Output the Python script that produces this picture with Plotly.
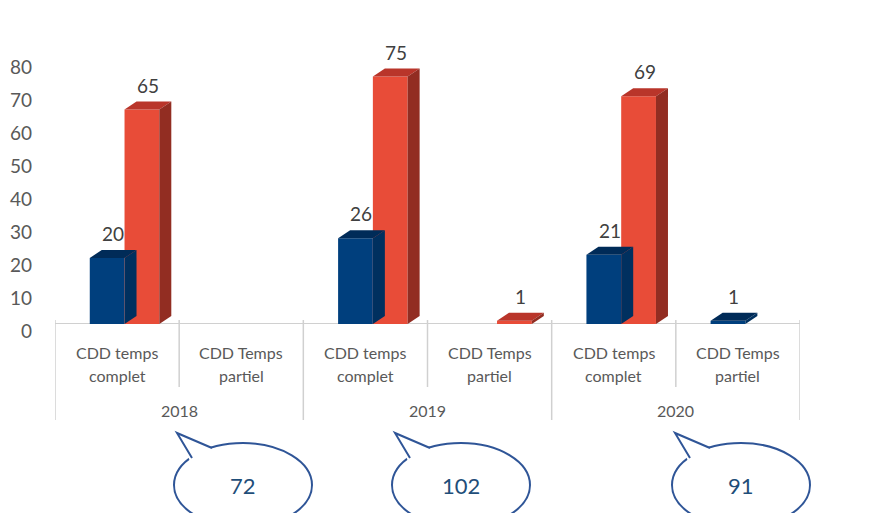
import plotly.graph_objects as go

# ---- data ----
years = ["2018", "2019", "2020"]
cat_line1 = ["CDD temps", "CDD Temps"]
cat_line2 = ["complet", "partiel"]
hommes = [20, None, 26, None, 21, 1]
femmes = [65, None, 75, 1, 69, None]
totals = [72, 102, 91]
y_ticks = [0, 10, 20, 30, 40, 50, 60, 70, 80]

# ---- geometry helpers (reference pixel coordinates) ----
W, H = 891, 521
BODY = 8                  # default page margin of the html body
PL, PR = 55, 800          # plot area left/right px
PB = 324                  # floor (y=0) px
YMAX = 80
PXU = 3.3                 # px per unit
PT = PB - YMAX * PXU
n = len(hommes)

def pxx(px):
    return (px - PL) / (PR - PL)

def pxy(py):
    return (PB - py) / (PB - PT)

x_per_px = n / (PR - PL)
y_per_px = 1 / PXU
DX = 12 * x_per_px
DY = 8 * y_per_px
BW = 0.28

fig = go.Figure()

series = [
    ("Hommes", hommes, -0.22, "#003F7D", "#002B58", "#00305F"),
    ("Femmes", femmes, 0.06, "#E84C38", "#B9352A", "#922D22"),
]

xs = list(range(n))
for name, vals, off, c_front, c_top, c_side in series:
    fig.add_trace(go.Bar(
        x=xs, y=vals, width=BW, offset=off, name=name,
        marker=dict(color=c_front, line=dict(width=0)),
        showlegend=False, hoverinfo="y",
    ))
    for i, v in enumerate(vals):
        if v is None:
            continue
        x0 = i + off
        x1 = x0 + BW
        fig.add_trace(go.Scatter(
            x=[x0, x0 + DX, x1 + DX, x1, x0], y=[v, v + DY, v + DY, v, v],
            fill="toself", fillcolor=c_top, mode="lines", line=dict(width=0),
            showlegend=False, hoverinfo="skip",
        ))
        fig.add_trace(go.Scatter(
            x=[x1, x1, x1 + DX, x1 + DX, x1], y=[0, v, v + DY, DY, 0],
            fill="toself", fillcolor=c_side, mode="lines", line=dict(width=0),
            showlegend=False, hoverinfo="skip",
        ))
        fig.add_annotation(
            x=x0 + BW / 2 + DX / 2, y=v + DY, xref="x", yref="y",
            text=str(v), showarrow=False, xanchor="center", yanchor="bottom", yshift=3,
            font=dict(size=19, color="#404040", family="Lato"),
        )

# y tick labels (slightly below the 3D floor, as in the original)
for t in y_ticks:
    fig.add_annotation(x=pxx(34), y=t, xref="paper", yref="y", text=str(t),
                       showarrow=False, xanchor="right", yanchor="middle", yshift=-6,
                       font=dict(size=19, color="#595959", family="Lato"))

shapes = []
grey = "#D0D0D0"
shapes.append(dict(type="line", xref="x", yref="y", x0=-0.5, x1=n - 0.5,
                   y0=0, y1=0, line=dict(color=grey, width=2), layer="below"))
for k in range(n + 1):
    xb = k - 0.5
    outer = (k % 2 == 0)
    shapes.append(dict(type="line", xref="x", yref="paper", x0=xb, x1=xb,
                       y0=pxy(320), y1=pxy(420 if outer else 387),
                       line=dict(color=grey, width=1.5), layer="below"))

for i in range(n):
    fig.add_annotation(x=i, y=pxy(352), xref="x", yref="paper", text=cat_line1[i % 2],
                       showarrow=False, xanchor="center", yanchor="middle",
                       font=dict(size=16, color="#595959", family="Lato"))
    fig.add_annotation(x=i, y=pxy(375), xref="x", yref="paper", text=cat_line2[i % 2],
                       showarrow=False, xanchor="center", yanchor="middle",
                       font=dict(size=16, color="#595959", family="Lato"))
for j, yr in enumerate(years):
    fig.add_annotation(x=2 * j + 0.5, y=pxy(410), xref="x", yref="paper", text=yr,
                       showarrow=False, xanchor="center", yanchor="middle",
                       font=dict(size=16, color="#595959", family="Lato"))

# speech bubbles
bubble_cx = [243, 461, 741]
bubble_cy = 485
RX, RY = 69, 42
blue_line = "#2F5597"
for j, tot in enumerate(totals):
    cx = bubble_cx[j]
    shapes.append(dict(type="circle", xref="paper", yref="paper",
                       x0=pxx(cx - RX), x1=pxx(cx + RX), y0=pxy(bubble_cy + RY), y1=pxy(bubble_cy - RY),
                       line=dict(color=blue_line, width=2), fillcolor="white"))
    tip = (cx - 66, 433)
    b1 = (cx - 51, 458)
    b2 = (cx - 31, 448)
    shapes.append(dict(type="path", xref="paper", yref="paper",
                       path=f"M{pxx(b1[0]-2)},{pxy(b1[1]+3)} L{pxx(tip[0])},{pxy(tip[1])} L{pxx(b2[0]+3)},{pxy(b2[1]+2)} "
                            f"L{pxx(b2[0])},{pxy(b2[1]+6)} L{pxx(b1[0]+4)},{pxy(b1[1]+4)} Z",
                       fillcolor="white", line=dict(width=0)))
    shapes.append(dict(type="path", xref="paper", yref="paper",
                       path=f"M{pxx(b1[0])},{pxy(b1[1])} L{pxx(tip[0])},{pxy(tip[1])} L{pxx(b2[0])},{pxy(b2[1])}",
                       line=dict(color=blue_line, width=2)))
    fig.add_annotation(x=pxx(cx), y=pxy(bubble_cy), xref="paper", yref="paper", text=str(tot),
                       showarrow=False, xanchor="center", yanchor="middle",
                       font=dict(size=22, color="#1F4E79", family="Lato"))

FW, FH = W - 2 * BODY, H - 2 * BODY
fig.update_layout(
    width=FW, height=FH,
    margin=dict(l=PL - BODY, r=FW - (PR - BODY), t=PT - BODY, b=FH - (PB - BODY)),
    paper_bgcolor="white", plot_bgcolor="white",
    barmode="overlay",
    shapes=shapes,
    xaxis=dict(range=[-0.5, n - 0.5], showticklabels=False, showgrid=False,
               zeroline=False, showline=False, fixedrange=True),
    yaxis=dict(range=[0, YMAX], showticklabels=False, showgrid=False, zeroline=False,
               showline=False, fixedrange=True),
    font=dict(family="Lato"),
)

fig.write_html("out.html")
